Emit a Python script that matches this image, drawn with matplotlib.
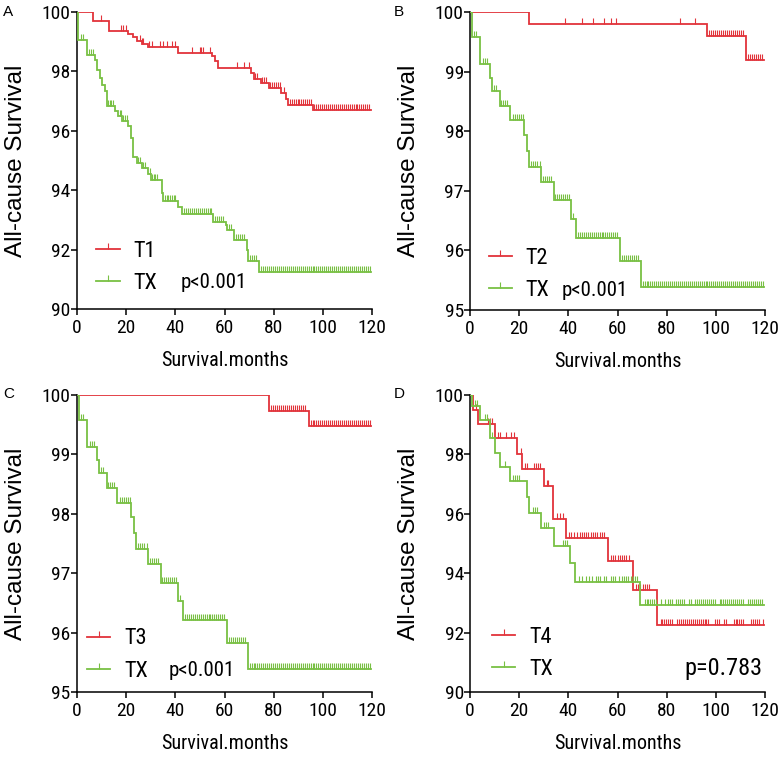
import numpy as np
import matplotlib
matplotlib.use('Agg')
import matplotlib.pyplot as plt
from matplotlib import font_manager as fm
from matplotlib.lines import Line2D

# ---------------- data ----------------
x_ticks = [0, 20, 40, 60, 80, 100, 120]
yticks_a = [90, 92, 94, 96, 98, 100]
yticks_b = [95, 96, 97, 98, 99, 100]
end_time = 119.5

# Panel A
a_t1_times = [0, 6.6, 13.2, 20.9, 22.9, 24.3, 26.3, 28.7, 40.9, 54.8, 56.1, 57.5, 70.8, 72.2, 74.9, 78.2, 83.0, 85.0, 86.0, 95.9]
a_t1_surv = [100, 99.69, 99.37, 99.26, 99.15, 99.03, 98.92, 98.81, 98.62, 98.51, 98.34, 98.11, 97.95, 97.75, 97.61, 97.44, 97.27, 97.08, 96.88, 96.71]
a_t1_cens = [9.8, 17.9, 18.8, 19.8, 25.7, 26.3, 26.9, 29.2, 30.6, 33.8, 35.1, 36.5, 38.5, 39.9, 46.6, 49.9, 50.6, 51.3, 54.3,
             65.0, 67.9, 70.0, 72.5, 73.3, 75.2, 76.0, 76.8, 78.6, 79.4, 80.2, 81.0, 81.8, 82.6, 84.0,
             86.5, 87.3, 88.1, 88.9, 89.7, 90.5, 91.3, 92.1, 92.9, 93.7, 94.5, 95.3,
             96.5, 97.3, 98.1, 98.9, 99.7, 100.5, 101.3, 102.1, 102.9, 103.7, 104.5, 105.3, 106.1, 106.9, 107.7,
             108.5, 109.3, 110.1, 110.9, 111.7, 112.5, 113.3, 114.1, 114.9, 115.7, 116.5, 117.3, 118.1, 118.9]
a_tx_times = [0, 0.5, 3.9, 7.3, 8.0, 9.4, 10.3, 11.4, 12.1, 15.5, 16.5, 18.2, 20.9, 22.0, 22.9, 24.3, 26.3, 29.0, 30.1,
              34.4, 35.1, 41.2, 42.6, 55.5, 60.6, 61.2, 63.9, 69.0, 69.7, 74.2]
a_tx_surv = [100, 99.07, 98.56, 98.39, 98.06, 97.78, 97.53, 97.33, 96.83, 96.66, 96.49, 96.32, 96.15, 95.75, 95.13, 94.91,
             94.74, 94.55, 94.34, 93.90, 93.65, 93.42, 93.20, 92.94, 92.83, 92.66, 92.32, 91.99, 91.63, 91.26]
a_tx_cens = [1.6, 2.3, 5.0, 5.7, 6.4, 12.6, 13.3, 14.0, 14.6, 17.3, 18.0, 18.7, 19.5, 20.2, 24.8, 25.5, 26.9, 27.6,
             29.6, 30.5, 31.2, 31.9, 32.6, 35.8, 36.5, 37.2, 37.9, 38.6, 39.3, 40.0,
             43.5, 44.3, 45.1, 45.9, 46.7, 47.5, 48.3, 49.1, 49.9, 50.7, 51.5, 52.3, 53.1, 53.9, 54.7,
             56.2, 57.0, 57.8, 58.6, 59.4, 62.0, 62.8, 64.7, 65.5, 66.3, 67.1, 67.9, 70.4, 71.2, 72.0, 72.8,
             75.0, 75.8, 76.6, 77.4, 78.2, 79.0, 79.8, 80.6, 81.4, 82.2, 83.0, 83.8, 84.6, 85.4, 86.2, 87.0,
             87.8, 88.6, 89.4, 90.2, 91.0, 91.8, 92.6, 93.4, 94.2, 95.0, 95.8, 96.6, 97.4, 98.2, 99.0, 99.8,
             100.6, 101.4, 102.2, 103.0, 103.8, 104.6, 105.4, 106.2, 107.0, 107.8, 108.6, 109.4, 110.2, 111.0,
             111.8, 112.6, 113.4, 114.2, 115.0, 115.8, 116.6, 117.4, 118.2, 119.0]

# Panel B / C shared TX arm
bc_tx_times = [0, 0.8, 4.2, 8.0, 9.0, 12.1, 16.1, 22.0, 23.2, 24.0, 29.0, 34.2, 41.2, 43.2, 61.0, 69.4]
bc_tx_surv = [100, 99.58, 99.13, 98.90, 98.68, 98.43, 98.19, 97.94, 97.67, 97.40, 97.15, 96.84, 96.53, 96.21, 95.83, 95.39]
bc_tx_cens = [1.5, 2.3, 5.3, 6.2, 7.0, 9.8, 10.6, 12.7, 13.5, 14.4, 15.2, 17.6, 18.4, 19.2, 20.0, 20.8, 21.6,
              25.0, 25.8, 26.6, 27.4, 28.3, 29.7, 30.5, 31.4, 32.2, 33.1, 34.7, 35.5, 36.3, 37.1, 37.9, 38.7, 39.5, 40.3,
              41.9, 43.9, 44.7, 45.5, 46.3, 47.1, 47.9, 48.7, 49.5, 50.3, 51.1, 51.9, 52.7, 53.5, 54.3, 55.1, 55.9,
              56.7, 57.5, 58.3, 59.1, 59.9, 61.8, 62.6, 63.4, 64.2, 65.0, 65.8, 66.6, 67.4, 68.2,
              70.2, 71.0, 71.8, 72.6, 73.4, 74.2, 75.0, 75.8, 76.6, 77.4, 78.2, 79.0, 79.8, 80.6, 81.4, 82.2,
              83.0, 83.8, 84.6, 85.4, 86.2, 87.0, 87.8, 88.6, 89.4, 90.2, 91.0, 91.8, 92.6, 93.4, 94.2, 95.0,
              95.8, 96.6, 97.4, 98.2, 99.0, 99.8, 100.6, 101.4, 102.2, 103.0, 103.8, 104.6, 105.4, 106.2, 107.0,
              107.8, 108.6, 109.4, 110.2, 111.0, 111.8, 112.6, 113.4, 114.2, 115.0, 115.8, 116.6, 117.4, 118.2, 119.0]

# Panel B T2
b_t2_times = [0, 24.1, 96.3, 112.2]
b_t2_surv = [100, 99.80, 99.60, 99.20]
b_t2_cens = [38.8, 45.6, 50.2, 54.4, 57.4, 59.4, 85.5, 91.6, 97.3, 98.1, 98.9, 99.7, 100.5, 101.3, 102.1, 102.9,
             103.7, 104.5, 105.3, 106.1, 106.9, 107.7, 108.5, 109.3, 110.1, 110.9, 113.0, 113.8, 114.6, 115.4,
             116.2, 117.0, 117.8, 118.6]

# Panel C T3
c_t3_times = [0, 78.1, 94.2]
c_t3_surv = [100, 99.73, 99.47]
c_t3_cens = [79.0, 79.8, 80.6, 81.4, 82.2, 83.0, 83.8, 84.6, 85.4, 86.2, 87.0, 87.8, 88.6, 89.4, 90.2, 91.0, 91.8, 92.6,
             95.0, 95.8, 96.6, 97.4, 98.2, 99.0, 99.8, 100.6, 101.4, 102.2, 103.0, 103.8, 104.6, 105.4, 106.2,
             107.0, 107.8, 108.6, 109.4, 110.2, 111.0, 111.8, 112.6, 113.4, 114.2, 115.0, 115.8, 116.6, 117.4,
             118.2, 119.0]

# Panel D
d_t4_times = [0, 1.2, 3.3, 10.0, 19.2, 21.2, 30.3, 33.7, 39.2, 56.3, 66.3, 76.1]
d_t4_surv = [100, 99.49, 99.02, 98.54, 98.03, 97.51, 96.94, 95.82, 95.20, 94.41, 93.42, 92.24]
d_t4_cens = [2.3, 7.2, 8.0, 8.8, 11.2, 12.0, 14.5, 16.6, 17.9, 20.6, 22.5, 23.3, 25.9, 26.7, 27.5, 28.3, 31.3, 31.9,
             35.2, 36.6, 37.8, 40.1, 41.1, 42.5, 43.7, 44.6, 45.5, 46.4, 47.3, 48.2, 49.1, 50.0, 50.9, 51.8, 52.7,
             53.6, 54.5, 57.3, 58.2, 59.1, 60.0, 60.9, 61.8, 62.7, 63.6, 64.5, 67.5, 68.4, 69.3, 70.2, 71.1, 72.0,
             72.9, 77.5, 78.3, 79.1, 79.9, 80.7, 81.5, 82.3, 84.2, 85.0, 85.8, 86.6, 87.4, 88.2, 89.0, 89.8, 90.6,
             91.4, 92.2, 93.0, 93.8, 94.6, 95.4, 96.2, 97.0, 99.5, 100.3, 101.1, 103.5, 104.3, 107.2, 108.0, 108.8,
             109.6, 110.4, 111.2, 114.2, 115.0, 115.8, 116.6, 117.4, 119.0]
d_tx_times = [0, 1.0, 4.2, 8.0, 10.0, 12.3, 16.1, 23.3, 24.0, 29.0, 34.2, 40.8, 42.8, 69.3]
d_tx_surv = [100, 99.62, 99.15, 98.54, 98.04, 97.57, 97.10, 96.55, 96.03, 95.52, 94.92, 94.33, 93.71, 92.94]
d_tx_cens = [2.2, 3.0, 6.0, 6.8, 9.0, 14.2, 17.5, 18.3, 19.1, 19.9, 25.6, 26.4, 27.2, 30.2, 31.0, 31.8, 38.0, 38.8,
             39.6, 44.5, 45.6, 47.2, 48.4, 49.5, 51.2, 52.1, 53.0, 54.6, 55.5, 57.3, 58.2, 59.1, 60.8, 61.7, 62.6,
             63.5, 64.4, 65.3, 66.2, 67.1, 68.0, 71.0, 71.8, 72.6, 73.4, 74.2, 75.0, 75.8, 77.6, 79.5, 80.5, 81.3,
             82.1, 83.8, 84.6, 85.4, 86.2, 87.0, 89.0, 89.8, 91.5, 92.3, 93.1, 93.9, 94.7, 95.5, 96.3, 97.1, 97.9,
             98.7, 99.5, 101.5, 102.3, 103.1, 103.9, 104.7, 105.5, 106.3, 107.1, 107.9, 108.7, 109.5, 110.3, 111.1,
             113.0, 113.8, 114.6, 115.4, 116.2, 117.0, 117.8, 118.6]

# ---------------- style ----------------
names = {f.name for f in fm.fontManager.ttflist}
NARROW = next((n for n in ['Roboto Condensed', 'Archivo Narrow', 'PT Sans Narrow', 'Liberation Sans'] if n in names), 'DejaVu Sans')
REG = 'Liberation Sans' if 'Liberation Sans' in names else 'DejaVu Sans'
RED = '#e2333a'
GREEN = '#78c043'

fig = plt.figure(figsize=(7.84, 7.64), dpi=100)
W, H = 784, 764


def add_axes_px(x0, x1, y0, y1):
    return fig.add_axes([x0 / W, 1 - y1 / H, (x1 - x0) / W, (y1 - y0) / H])


def km(ax, times, surv, cens, color, label):
    t = list(times) + [end_time]
    s = list(surv) + [surv[-1]]
    ax.step(t, s, where='post', color=color, lw=1.3, zorder=3, solid_joinstyle='miter')
    tarr = np.asarray(times)
    idx = np.searchsorted(tarr, np.asarray(cens), side='right') - 1
    cy = np.asarray(surv)[idx]
    ax.plot(cens, cy, ls='none', marker=2, ms=4.5, mew=0.8, color=color, zorder=3)
    return Line2D([0], [0], color=color, lw=1.3, marker=2, ms=4.5, mew=0.8, label=label)


def style(ax, yticks):
    ax.set_xlim(0, 120)
    ax.set_ylim(yticks[0], yticks[-1])
    ax.set_xticks(x_ticks)
    ax.set_yticks(yticks)
    for s in ['top', 'right']:
        ax.spines[s].set_visible(False)
    for s in ['left', 'bottom']:
        ax.spines[s].set_linewidth(1.1)
    ax.tick_params(axis='both', direction='out', width=1.1, labelsize=14)
    ax.tick_params(axis='x', length=4, pad=3)
    ax.tick_params(axis='y', length=4, pad=0.5)
    for lab in ax.get_xticklabels() + ax.get_yticklabels():
        lab.set_fontfamily(NARROW)
    ax.set_xlabel('Survival.months', fontfamily=NARROW, fontsize=14.5)
    ax.xaxis.set_label_coords(0.5, -0.14)
    ax.xaxis.label.set_va('top')
    ax.set_ylabel('All-cause Survival', fontfamily=REG, fontsize=17.5)
    ax.yaxis.set_label_coords(-0.168, 0.5)


def legend(ax, handles, x, y):
    ax.legend(handles=handles, loc='lower left', bbox_to_anchor=(x, y), frameon=False,
              prop={'family': NARROW, 'size': 16}, handlelength=1.05, handletextpad=0.62,
              labelspacing=0.5, borderpad=0, borderaxespad=0, numpoints=1)


# Panel A
axA = add_axes_px(77, 372, 12, 309)
h1 = km(axA, a_t1_times, a_t1_surv, a_t1_cens, RED, 'T1')
h2 = km(axA, a_tx_times, a_tx_surv, a_tx_cens, GREEN, 'TX')
style(axA, yticks_a)
legend(axA, [h1, h2], 0.065, 0.05)
axA.text(0.35, 0.088, 'p<0.001', transform=axA.transAxes, fontfamily=NARROW, fontsize=15, va='center', ha='left')

# Panel B
axB = add_axes_px(470, 765, 12, 310)
h1 = km(axB, b_t2_times, b_t2_surv, b_t2_cens, RED, 'T2')
h2 = km(axB, bc_tx_times, bc_tx_surv, bc_tx_cens, GREEN, 'TX')
style(axB, yticks_b)
legend(axB, [h1, h2], 0.063, 0.03)
axB.text(0.312, 0.067, 'p<0.001', transform=axB.transAxes, fontfamily=NARROW, fontsize=15, va='center', ha='left')

# Panel C
axC = add_axes_px(77, 372, 395, 692)
h1 = km(axC, c_t3_times, c_t3_surv, c_t3_cens, RED, 'T3')
h2 = km(axC, bc_tx_times, bc_tx_surv, bc_tx_cens, GREEN, 'TX')
style(axC, yticks_b)
legend(axC, [h1, h2], 0.034, 0.035)
axC.text(0.309, 0.074, 'p<0.001', transform=axC.transAxes, fontfamily=NARROW, fontsize=15, va='center', ha='left')

# Panel D
axD = add_axes_px(470, 765, 395, 692)
h1 = km(axD, d_t4_times, d_t4_surv, d_t4_cens, RED, 'T4')
h2 = km(axD, d_tx_times, d_tx_surv, d_tx_cens, GREEN, 'TX')
style(axD, yticks_a)
legend(axD, [h1, h2], 0.075, 0.04)
axD.text(0.992, 0.078, 'p=0.783', transform=axD.transAxes, fontfamily=NARROW, fontsize=17.5, va='center', ha='right')

for lab, (px, py) in zip(['A', 'B', 'C', 'D'], [(3, 5), (394, 5), (3, 387), (394, 387)]):
    fig.text(px / W, 1 - py / H, lab, fontfamily=REG, fontsize=11, va='top', ha='left')

fig.savefig('out.png', dpi=100)
